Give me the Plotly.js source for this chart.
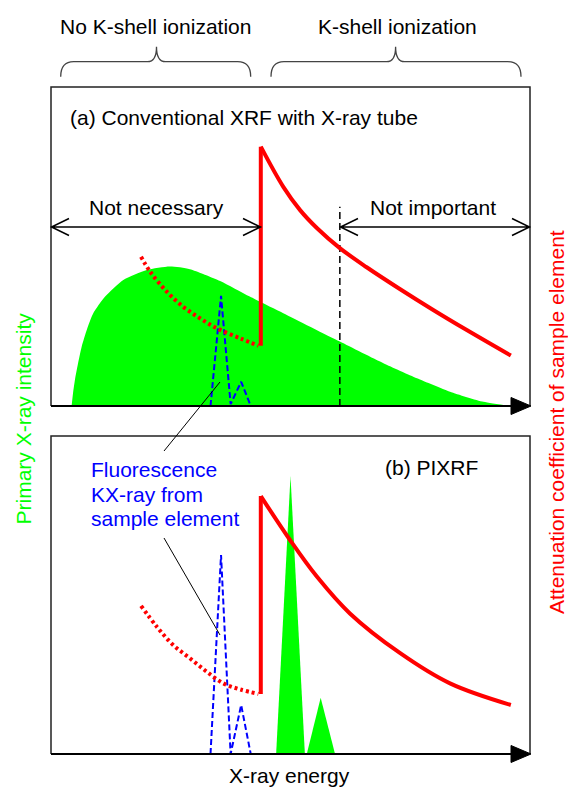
<!DOCTYPE html>
<html>
<head>
<meta charset="utf-8">
<script src="https://cdn.plot.ly/plotly-3.0.1.min.js"></script>
<style>html,body{margin:0;padding:0;background:#fff;}#chart{width:568px;height:789px;}</style>
</head>
<body>
<div id="chart"></div>
<script>
// ---------- Data (arbitrary units: energy 0-100, intensity 0-100) ----------
// (a) X-ray tube primary spectrum (bremsstrahlung)
const tubeEnergy    = [4.3, 4.6, 5.0, 5.6, 6.4, 7.5, 8.8, 11.3, 15.1, 20.0, 24.8, 29.0, 35.3, 41.5, 48.5, 60.3, 69.4, 76.4, 83.3, 90.3, 95.8];
const tubeIntensity = [0, 4.0, 8.2, 13.0, 18.6, 24.0, 29.0, 34.3, 39.5, 42.6, 43.7, 42.9, 39.2, 34.3, 29.1, 20.2, 13.4, 8.7, 4.5, 1.3, 0];

// (b) PIXRF primary X-ray peaks
const pixEnergy1    = [47.0, 50.0, 53.0];
const pixIntensity1 = [0, 87.4, 0];
const pixEnergy2    = [53.4, 56.3, 59.3];
const pixIntensity2 = [0, 17.7, 0];

// Fluorescence KX-ray of sample element
const kxEnergy   = [33.3, 35.5, 37.5, 39.7, 41.7];
const kxTopA     = [0, 34.5, 0.6, 7.6, 0];
const kxTopB     = [0, 62.6, 0, 15.4, 0];

// Attenuation coefficient: below K edge (dotted)
const belowEnergyA = [18.8, 20.7, 24.2, 27.6, 31.1, 34.6, 39.5, 43.3];
const belowAttA    = [46.8, 42.1, 35.8, 31.1, 27.5, 24.4, 21.2, 18.9];
const belowEnergyB = [18.8, 22.1, 25.5, 29.0, 32.5, 36.0, 39.5, 43.3];
const belowAttB    = [46.6, 40.0, 34.3, 30.1, 25.9, 22.2, 20.3, 18.9];

// K absorption edge
const edgeEnergy = [43.8, 43.8];
const edgeAttA   = [18.9, 81.3];
const edgeAttB   = [18.9, 81.1];

// Attenuation coefficient: above K edge (solid)
const aboveEnergyA = [43.8, 48.5, 52.0, 55.5, 60.3, 65.9, 72.9, 79.8, 86.8, 96.0];
const aboveAttA    = [81.3, 68.7, 61.4, 55.8, 49.5, 43.5, 36.6, 30.1, 23.8, 15.8];
const aboveEnergyB = [43.8, 49.9, 55.5, 62.4, 72.9, 83.3, 96.0];
const aboveAttB    = [81.1, 67.3, 55.8, 44.2, 31.7, 22.2, 15.4];

// "Not important" boundary
const limitEnergy = [60.3, 60.3];
const limitLevel  = [0, 62.5];

// ---------- Layout helpers (pixel -> paper) ----------
const W = 568, H = 789;
const PX = p => p / W;
const PY = p => 1 - p / H;
const pt = (x, y) => PX(x).toFixed(5) + ',' + PY(y).toFixed(5);

const GREEN = '#00FF00', RED = '#FF0000', BLUE = '#0000FF';
const FONT = 'Liberation Sans, Arial, sans-serif';

const traces = [
  // Panel (a)
  {x: tubeEnergy, y: tubeIntensity, xaxis: 'x', yaxis: 'y', mode: 'lines', fill: 'tozeroy',
   fillcolor: GREEN, line: {color: GREEN, width: 0, shape: 'spline', smoothing: 0.6}},
  {x: limitEnergy, y: limitLevel, xaxis: 'x', yaxis: 'y', mode: 'lines',
   line: {color: '#000', width: 1.5, dash: '7px,4px'}},
  {x: kxEnergy, y: kxTopA, xaxis: 'x', yaxis: 'y', mode: 'lines',
   line: {color: BLUE, width: 2, dash: '6px,3px'}},
  {x: belowEnergyA, y: belowAttA, xaxis: 'x', yaxis: 'y', mode: 'lines',
   line: {color: RED, width: 4, dash: '3px,3px', shape: 'spline'}},
  {x: edgeEnergy, y: edgeAttA, xaxis: 'x', yaxis: 'y', mode: 'lines',
   line: {color: RED, width: 4}},
  {x: aboveEnergyA, y: aboveAttA, xaxis: 'x', yaxis: 'y', mode: 'lines',
   line: {color: RED, width: 4, shape: 'spline'}},
  // Panel (b)
  {x: pixEnergy1, y: pixIntensity1, xaxis: 'x2', yaxis: 'y2', mode: 'lines', fill: 'toself',
   fillcolor: GREEN, line: {color: GREEN, width: 0}},
  {x: pixEnergy2, y: pixIntensity2, xaxis: 'x2', yaxis: 'y2', mode: 'lines', fill: 'toself',
   fillcolor: GREEN, line: {color: GREEN, width: 0}},
  {x: kxEnergy, y: kxTopB, xaxis: 'x2', yaxis: 'y2', mode: 'lines',
   line: {color: BLUE, width: 2, dash: '6px,3px'}},
  {x: belowEnergyB, y: belowAttB, xaxis: 'x2', yaxis: 'y2', mode: 'lines',
   line: {color: RED, width: 4, dash: '3px,3px', shape: 'spline'}},
  {x: edgeEnergy, y: edgeAttB, xaxis: 'x2', yaxis: 'y2', mode: 'lines',
   line: {color: RED, width: 4}},
  {x: aboveEnergyB, y: aboveAttB, xaxis: 'x2', yaxis: 'y2', mode: 'lines',
   line: {color: RED, width: 4, shape: 'spline'}}
];

const hidden = {visible: false, fixedrange: true};
const xDom = [PX(51), PX(530)];

function panelShapes(top, bottom) {
  return [
    {type: 'path', xref: 'paper', yref: 'paper',
     path: 'M' + pt(51, bottom) + ' L' + pt(51, top) + ' L' + pt(530, top) + ' L' + pt(530, bottom),
     line: {color: '#222', width: 1.5}},
    {type: 'line', xref: 'paper', yref: 'paper', x0: PX(51), x1: PX(514), y0: PY(bottom), y1: PY(bottom),
     line: {color: '#000', width: 2.2}},
    {type: 'path', xref: 'paper', yref: 'paper',
     path: 'M' + pt(511, bottom - 8.5) + ' L' + pt(531, bottom) + ' L' + pt(511, bottom + 8.5) + ' Z',
     fillcolor: '#000', line: {color: '#000', width: 1}}
  ];
}
function dblArrow(x0, x1, y) {
  return {type: 'path', xref: 'paper', yref: 'paper',
    path: 'M' + pt(x0 + 18, y - 8.5) + ' L' + pt(x0 + 0.5, y) + ' L' + pt(x0 + 18, y + 8.5) +
          ' M' + pt(x0 + 0.5, y) + ' L' + pt(x1 - 0.5, y) +
          ' M' + pt(x1 - 18, y - 8.5) + ' L' + pt(x1 - 0.5, y) + ' L' + pt(x1 - 18, y + 8.5),
    line: {color: '#000', width: 1.5}};
}
function brace(x0, x1, xc) {
  const yE = 76.7, yM = 61.7, yT = 46.7;
  return {type: 'path', xref: 'paper', yref: 'paper',
    path: 'M' + pt(x0, yE) + ' Q' + pt(x0, yM) + ' ' + pt(x0 + 13, yM) +
          ' L' + pt(xc - 9, yM) + ' C' + pt(xc - 3, yM) + ' ' + pt(xc, yM - 4) + ' ' + pt(xc, yT) +
          ' C' + pt(xc, yM - 4) + ' ' + pt(xc + 3, yM) + ' ' + pt(xc + 9, yM) +
          ' L' + pt(x1 - 13, yM) + ' Q' + pt(x1, yM) + ' ' + pt(x1, yE),
    line: {color: '#444', width: 1.3}};
}
function leader(xa, ya, xb, yb) {
  return {type: 'line', xref: 'paper', yref: 'paper', x0: PX(xa), y0: PY(ya), x1: PX(xb), y1: PY(yb),
    line: {color: '#000', width: 1}};
}

const shapes = [].concat(
  panelShapes(87, 406),
  panelShapes(436, 754),
  [dblArrow(51, 261, 227), dblArrow(340, 530, 227),
   brace(60.7, 250.7, 156.5), brace(271, 521, 395.6),
   leader(220, 382, 164, 451), leader(164, 538, 220, 635)]
);

function txt(text, x, y, opts) {
  return Object.assign({text: text, xref: 'paper', yref: 'paper', x: PX(x), y: PY(y),
    xanchor: 'center', yanchor: 'middle', showarrow: false,
    font: {family: FONT, size: 21, color: '#000'}}, opts || {});
}

const annotations = [
  txt('No K-shell ionization', 155, 27),
  txt('K-shell ionization', 397, 27),
  txt('(a) Conventional XRF with X-ray tube', 68, 118, {xanchor: 'left'}),
  txt('Not necessary', 156.7, 208),
  txt('Not important', 433, 208),
  txt('(b) PIXRF', 383, 467, {xanchor: 'left'}),
  txt('Fluorescence', 89, 470, {xanchor: 'left', font: {family: FONT, size: 21, color: BLUE}}),
  txt('KX-ray from', 89, 494, {xanchor: 'left', font: {family: FONT, size: 21, color: BLUE}}),
  txt('sample element', 89, 518, {xanchor: 'left', font: {family: FONT, size: 21, color: BLUE}}),
  txt('X-ray energy', 289, 789, {yanchor: 'bottom'}),
  txt('Primary X-ray intensity', 23.5, 419, {textangle: -90, font: {family: FONT, size: 21, color: GREEN}}),
  txt('Attenuation coefficient of sample element', 556, 422, {textangle: -90, font: {family: FONT, size: 21, color: RED}})
];

const layout = {
  width: W, height: H,
  margin: {l: 0, r: 0, t: 0, b: 0, pad: 0},
  paper_bgcolor: '#fff', plot_bgcolor: 'rgba(0,0,0,0)',
  showlegend: false,
  xaxis:  Object.assign({domain: xDom, range: [0, 100], anchor: 'y'}, hidden),
  yaxis:  Object.assign({domain: [PY(406), PY(87)], range: [0, 100], anchor: 'x'}, hidden),
  xaxis2: Object.assign({domain: xDom, range: [0, 100], anchor: 'y2'}, hidden),
  yaxis2: Object.assign({domain: [PY(754), PY(436)], range: [0, 100], anchor: 'x2'}, hidden),
  shapes: shapes,
  annotations: annotations
};

Plotly.newPlot('chart', traces, layout, {displayModeBar: false, staticPlot: true});
</script>
</body>
</html>
